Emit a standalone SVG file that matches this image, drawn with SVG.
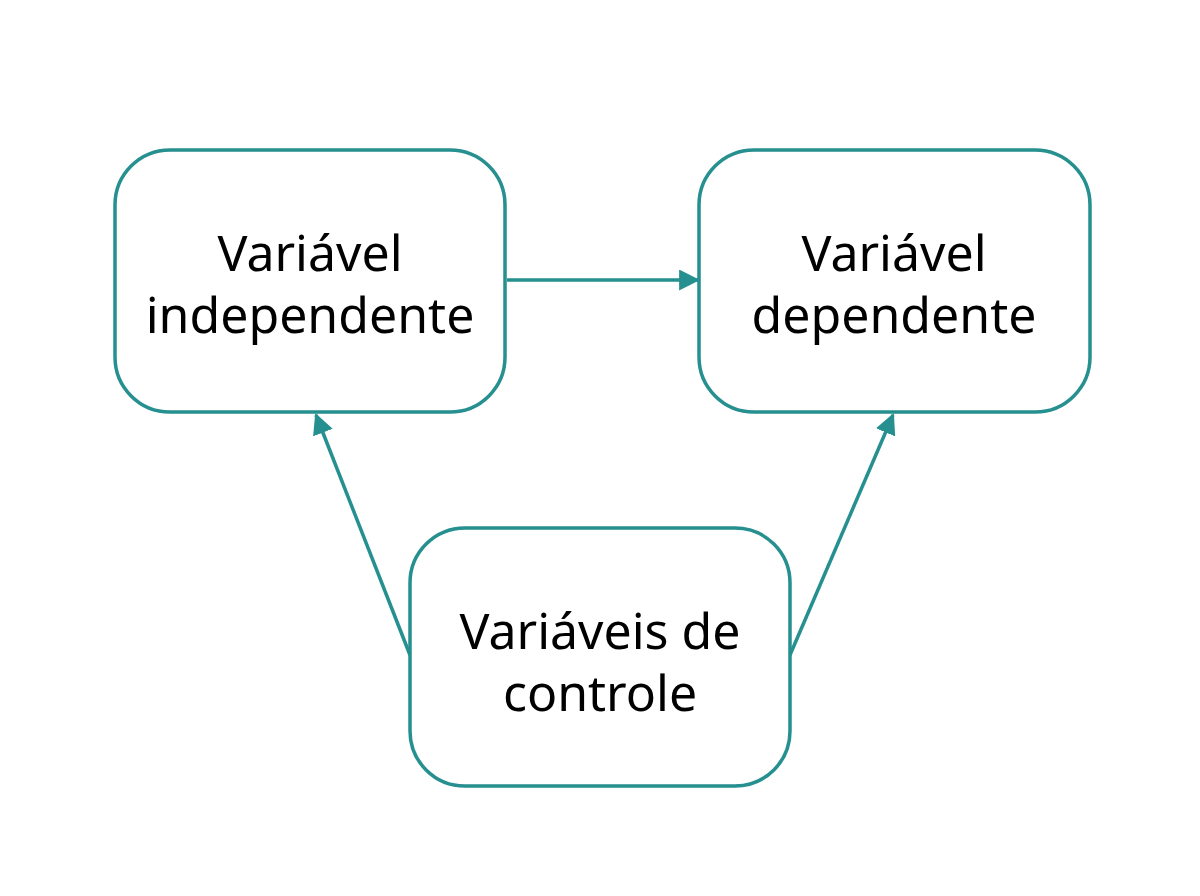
<svg xmlns="http://www.w3.org/2000/svg" width="1200" height="896" viewBox="0 0 1200 896">
<style>
.box{fill:#fff;stroke:#268f8f;stroke-width:3.5}
.t{font-family:"Noto Sans","Open Sans",sans-serif;font-size:50px;fill:#000;text-anchor:middle}
.c{stroke:#268f8f;stroke-width:3.5;fill:none;marker-end:url(#a)}
</style>
<defs><marker id="a" viewBox="0 0 10 10" refX="9" refY="5" markerWidth="6" markerHeight="6" orient="auto" markerUnits="strokeWidth"><path d="M0,0L10,5L0,10z" fill="#268f8f"/></marker></defs>
<rect width="1200" height="896" fill="#fff"/>
<g id="connectors">
<line class="c" x1="507" y1="280" x2="698" y2="280"/>
<line class="c" x1="410" y1="655" x2="316" y2="415"/>
<line class="c" x1="790" y1="655" x2="893" y2="415"/>
</g>
<g id="n1"><rect class="box" x="115" y="150" width="390" height="262" rx="55"/>
<text class="t" x="310" y="271">Variável</text><text class="t" x="310" y="333">independente</text></g>
<g id="n2"><rect class="box" x="699" y="150" width="391" height="262" rx="55"/>
<text class="t" x="894" y="271">Variável</text><text class="t" x="894" y="333">dependente</text></g>
<g id="n3"><rect class="box" x="410" y="528" width="380" height="258" rx="55"/>
<text class="t" x="600" y="649">Variáveis de</text><text class="t" x="600" y="711">controle</text></g>
</svg>
